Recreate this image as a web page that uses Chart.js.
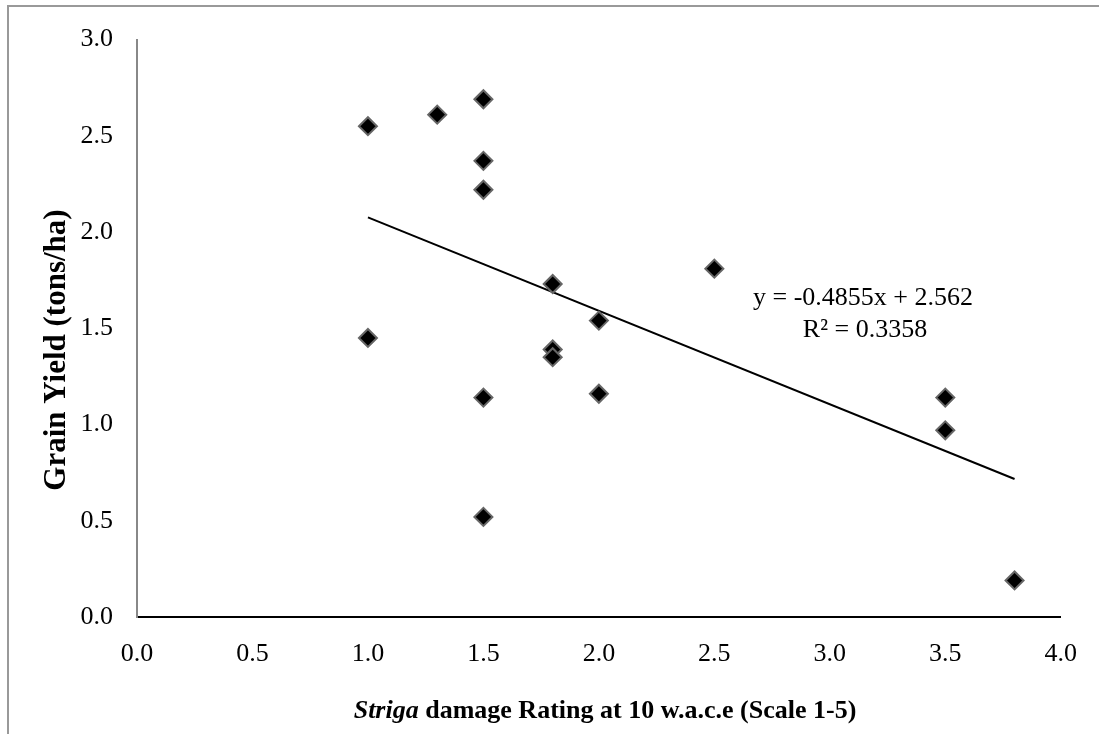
<!DOCTYPE html>
<html>
<head>
<meta charset="utf-8">
<title>Grain yield vs Striga damage rating</title>
<script src="https://cdn.jsdelivr.net/npm/chart.js@4/dist/chart.umd.min.js"></script>
<style>
    html, body { margin: 0; padding: 0; background: #fff; }
    #wrap { width: 1099px; height: 734px; position: relative; }
</style>
</head>
<body>
<div id="wrap"><canvas id="yieldChart"></canvas></div>
<script>
// Striga damage rating (x) and grain yield (y) per entry
const damageRating = [1.0, 1.0, 1.3, 1.5, 1.5, 1.5, 1.5, 1.5, 1.8, 1.8, 1.8, 2.0, 2.0, 2.5, 3.5, 3.5, 3.8];
const grainYield   = [2.55, 1.45, 2.61, 2.69, 2.37, 2.22, 1.14, 0.52, 1.73, 1.39, 1.35, 1.54, 1.16, 1.81, 1.14, 0.97, 0.19];

// linear trend line as reported on the chart
const trendSlope = -0.4855;
const trendIntercept = 2.562;
const trendR2 = 0.3358;
const trendRange = [1.0, 3.8];

const FONT = "'Liberation Serif', 'Times New Roman', serif";

const points = damageRating.map((x, i) => ({ x: x, y: grainYield[i] }));
const trend = trendRange.map(x => ({ x: x, y: trendSlope * x + trendIntercept }));

const textPlugin = {
    id: 'chartText',
    afterDraw(chart) {
        const ctx = chart.ctx;
        ctx.save();

        // outer frame
        ctx.strokeStyle = '#999';
        ctx.lineWidth = 2;
        ctx.strokeRect(8, 6, 1200, 1000);

        ctx.fillStyle = '#000';
        ctx.textBaseline = 'middle';

        // regression equation
        ctx.font = '26px ' + FONT;
        ctx.textAlign = 'center';
        const sign = trendIntercept >= 0 ? '+' : '-';
        ctx.fillText('y = ' + trendSlope + 'x ' + sign + ' ' + Math.abs(trendIntercept), 863, 298);
        ctx.fillText('R\u00B2 = ' + trendR2, 865, 330);

        // y axis title
        ctx.save();
        ctx.translate(57, 350);
        ctx.rotate(-Math.PI / 2);
        ctx.font = 'bold 31px ' + FONT;
        ctx.fillText('Grain Yield (tons/ha)', 0, 0);
        ctx.restore();

        // x axis title, genus name in italics
        const part1 = 'Striga';
        const part2 = ' damage Rating at 10 w.a.c.e (Scale 1-5)';
        ctx.textAlign = 'left';
        ctx.textBaseline = 'alphabetic';
        ctx.font = 'italic bold 26px ' + FONT;
        const w1 = ctx.measureText(part1).width;
        ctx.font = 'bold 26px ' + FONT;
        const w2 = ctx.measureText(part2).width;
        let x0 = 605 - (w1 + w2) / 2;
        ctx.font = 'italic bold 26px ' + FONT;
        ctx.fillText(part1, x0, 718);
        ctx.font = 'bold 26px ' + FONT;
        ctx.fillText(part2, x0 + w1, 718);

        ctx.restore();
    }
};

new Chart(document.getElementById('yieldChart'), {
    type: 'scatter',
    data: {
        datasets: [
            {
                label: 'Grain yield',
                data: points,
                pointStyle: 'rectRot',
                pointRadius: 9,
                pointHoverRadius: 9,
                backgroundColor: '#000',
                borderColor: '#666',
                borderWidth: 2,
                order: 1
            },
            {
                label: 'Linear trend',
                type: 'line',
                data: trend,
                showLine: true,
                borderColor: '#000',
                borderWidth: 2,
                pointRadius: 0,
                fill: false,
                order: 2
            }
        ]
    },
    options: {
        responsive: true,
        maintainAspectRatio: false,
        animation: false,
        layout: {
            padding: { top: 36, right: 34, left: 0, bottom: 0 }
        },
        plugins: {
            legend: { display: false },
            tooltip: { enabled: false }
        },
        scales: {
            x: {
                type: 'linear',
                min: 0,
                max: 4,
                grid: { display: false, drawTicks: false },
                border: { display: true, color: '#000', width: 2 },
                ticks: {
                    stepSize: 0.5,
                    padding: 22,
                    color: '#000',
                    font: { family: FONT, size: 26 },
                    callback: v => v.toFixed(1)
                },
                afterFit(scale) { scale.height = 117; }
            },
            y: {
                type: 'linear',
                min: 0,
                max: 3,
                grid: { display: false, drawTicks: false },
                border: { display: true, color: '#888', width: 2 },
                ticks: {
                    stepSize: 0.5,
                    padding: 24,
                    color: '#000',
                    font: { family: FONT, size: 26 },
                    callback: v => v.toFixed(1)
                },
                afterFit(scale) { scale.width = 137; }
            }
        }
    },
    plugins: [textPlugin]
});
</script>
</body>
</html>
